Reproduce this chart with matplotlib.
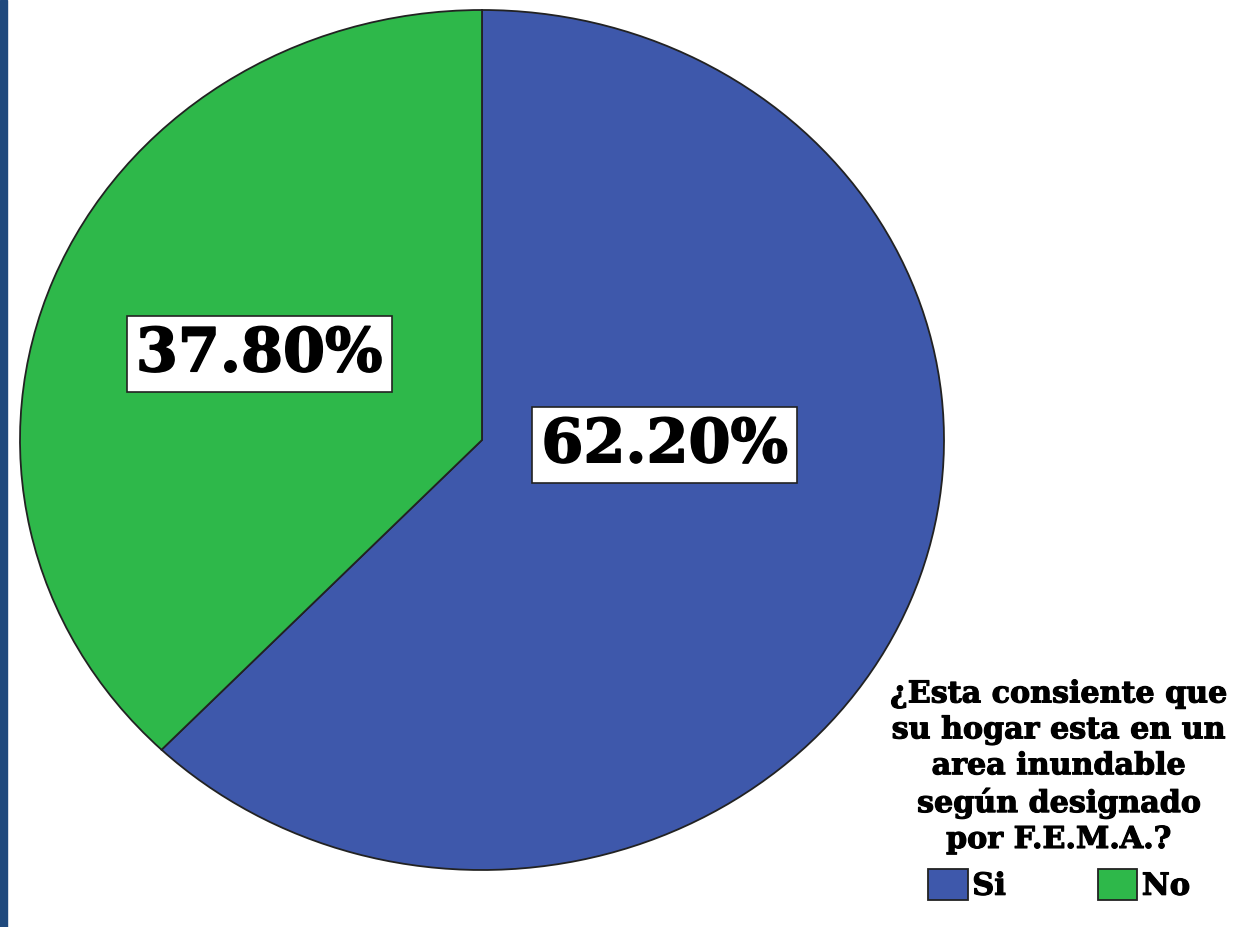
import matplotlib.pyplot as plt
import matplotlib.patheffects as pe
from matplotlib.patches import Rectangle

# Chart data
categories = ['Si', 'No']
percentages = [62.2, 37.8]
colors = ['#3e58ab', '#2eb84a']
legendTitle = '¿Esta consiente que\nsu hogar esta en un\narea inundable\nsegún designado\npor F.E.M.A.?'

FONT = 'DejaVu Serif'
heavy = [pe.withStroke(linewidth=1.2, foreground='black')]

fig = plt.figure(figsize=(12.39, 9.27), dpi=100)
fig.patches.append(Rectangle((0, 0), 7 / 1239, 1, transform=fig.transFigure,
                             color='#1f497d', zorder=0))

ax = fig.add_axes([20 / 1239, 57 / 927, 924 / 1239, 860 / 927])
wedges, texts, autotexts = ax.pie(
    percentages, colors=colors, startangle=90, counterclock=False,
    autopct='%.2f%%', pctdistance=0.52,
    wedgeprops=dict(edgecolor='#222222', linewidth=1.3),
    textprops=dict(family=FONT, fontweight='bold', fontsize=43.5, color='black'))
ax.set_aspect('auto')
ax.set_xlim(-1, 1)
ax.set_ylim(-1, 1)

# Blue label sits right of the center, not on the mid-angle ray
autotexts[0].set_position((0.395, -0.012))
gx, gy = autotexts[1].get_position()
autotexts[1].set_position((gx, gy + 0.005))
for t in autotexts:
    t.set_bbox(dict(facecolor='white', edgecolor='#222222', linewidth=1.2, pad=6.5))
    t.set_path_effects(heavy)

leg = fig.legend(wedges, categories, loc='lower center', bbox_to_anchor=(1059 / 1239, 13 / 927),
                 ncol=2, frameon=False, title=legendTitle,
                 prop=dict(family=FONT, weight='bold', size=22),
                 handlelength=1.3, handleheight=1.15, handletextpad=0.15, columnspacing=3.0,
                 borderaxespad=0)
title = leg.get_title()
title.set_fontfamily(FONT)
title.set_fontweight('bold')
title.set_fontsize(21.7)
title.set_multialignment('center')
title.set_linespacing(1.3)
title.set_path_effects([pe.withStroke(linewidth=0.8, foreground='black')])
for t in leg.get_texts():
    t.set_path_effects([pe.withStroke(linewidth=0.8, foreground='black')])

fig.savefig('out.png', dpi=100)
